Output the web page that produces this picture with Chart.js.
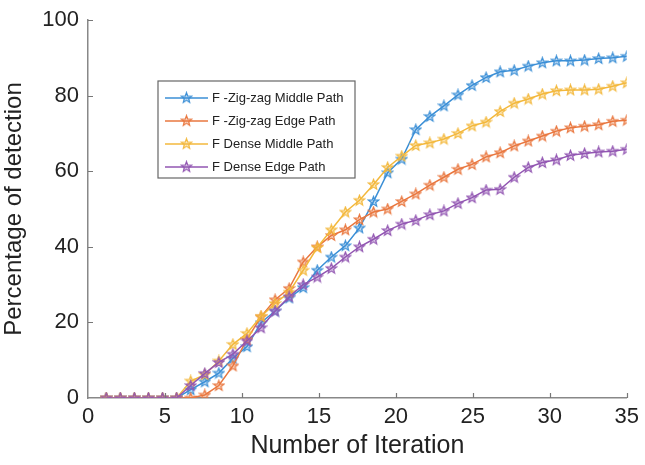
<!DOCTYPE html>
<html>
<head>
<meta charset="utf-8">
<script src="https://cdn.jsdelivr.net/npm/chart.js@4"></script>
<style>
  html, body { margin: 0; padding: 0; background: #fff; }
  #wrap { width: 645px; height: 465px; }
</style>
</head>
<body>
<div id="wrap"><canvas id="chart"></canvas></div>
<script>
  // iteration index of each sample
  const iterations = [1, 2, 3, 4, 5, 6, 7, 8, 9, 10, 11, 12, 13, 14, 15, 16, 17, 18, 19,
    20, 21, 22, 23, 24, 25, 26, 27, 28, 29, 30, 31, 32, 33, 34, 35, 36, 37, 38];

  const zigzagMiddle = [0, 0, 0, 0, 0, 0, 2.2, 4.3, 6.6, 10.5, 13.6, 19.9, 23, 26.5, 29.2, 33.8,
    37.3, 40.3, 45, 52, 59.6, 63.2, 71, 74.5, 77.3, 80.2, 82.7, 84.8, 86.3, 86.7, 87.8, 88.7,
    89.2, 89.2, 89.4, 89.8, 90, 90.4];
  const zigzagEdge = [0, 0, 0, 0, 0, 0, 0, 0.8, 3.3, 8.5, 15.5, 21.5, 26, 29, 36, 40,
    43, 44.5, 47.2, 49.2, 50, 52, 54, 56.3, 58.4, 60.5, 61.8, 63.8, 64.9, 66.7, 68, 69.3,
    70.6, 71.5, 71.9, 72.3, 73.2, 73.5];
  const denseMiddle = [0, 0, 0, 0, 0, 0, 4.5, 6.2, 9.8, 14.2, 17.1, 21.6, 25, 28, 33.8, 39.8,
    44.5, 49.2, 52.3, 56.5, 61, 64, 66.8, 67.5, 68.5, 70, 72, 73, 75.8, 78, 79.1, 80.4,
    81.3, 81.5, 81.5, 81.7, 82.5, 83.4];
  const denseEdge = [0, 0, 0, 0, 0, 0, 3.3, 6.5, 9.4, 11.6, 15.1, 18.6, 23, 26.8, 30, 32,
    34.3, 37.3, 40, 42, 44.3, 46, 47, 48.5, 49.5, 51.5, 53, 55, 55.2, 58.4, 61, 62.3,
    63, 64.2, 64.7, 65.1, 65.3, 65.8];

  const seriesNames = ['F -Zig-zag Middle Path', 'F -Zig-zag Edge Path', 'F Dense Middle Path', 'F Dense Edge Path'];
  const seriesColors = ['#3b8fd6', '#e9773f', '#f3b83c', '#9256b2'];
  const xTickLabels = [0, 5, 10, 15, 20, 25, 30, 35];
  const yTickLabels = [0, 20, 40, 60, 80, 100];

  // five-pointed star marker, like matlab's pentagram
  function makeStar(color) {
    const c = document.createElement('canvas');
    c.width = 13; c.height = 13;
    const ctx = c.getContext('2d');
    ctx.beginPath();
    for (let i = 0; i < 10; i++) {
      const r = i % 2 === 0 ? 5.4 : 2.3;
      const a = -Math.PI / 2 + i * Math.PI / 5;
      const px = 6.5 + r * Math.cos(a), py = 6.8 + r * Math.sin(a);
      if (i === 0) ctx.moveTo(px, py); else ctx.lineTo(px, py);
    }
    ctx.closePath();
    ctx.globalAlpha = 0.35;
    ctx.fillStyle = color;
    ctx.fill();
    ctx.globalAlpha = 1;
    ctx.lineWidth = 1.2;
    ctx.strokeStyle = color;
    ctx.stroke();
    return c;
  }
  const stars = seriesColors.map(makeStar);

  const allSeries = [zigzagMiddle, zigzagEdge, denseMiddle, denseEdge];
  const datasets = allSeries.map((vals, k) => ({
    label: seriesNames[k],
    data: vals.map((v, i) => ({ x: iterations[i], y: v })),
    borderColor: seriesColors[k],
    borderWidth: 1.5,
    pointStyle: stars[k],
    pointRadius: 6,
    xAxisID: 'x',
    yAxisID: 'y'
  }));
  // draw series in matlab order, first on bottom
  datasets.forEach((d, k) => d.order = 4 - k);

  // legend box inside the plot, matlab style
  const boxLegend = {
    id: 'boxLegend',
    afterDraw(chart) {
      const ctx = chart.ctx;
      const a = chart.chartArea;
      const left = a.left + 70, top = a.top + 61, w = 197, h = 97;
      ctx.save();
      ctx.fillStyle = '#fff';
      ctx.fillRect(left, top, w, h);
      ctx.strokeStyle = '#666';
      ctx.lineWidth = 1.2;
      ctx.strokeRect(left, top, w, h);
      ctx.font = '13px "Liberation Sans", Arial, sans-serif';
      ctx.textBaseline = 'middle';
      seriesNames.forEach((name, k) => {
        const y = top + 17 + k * 23;
        ctx.strokeStyle = seriesColors[k];
        ctx.lineWidth = 1.5;
        ctx.beginPath();
        ctx.moveTo(left + 7, y);
        ctx.lineTo(left + 50, y);
        ctx.stroke();
        ctx.drawImage(stars[k], left + 22, y - 6.8);
        ctx.fillStyle = '#222';
        ctx.fillText(name, left + 54, y);
      });
      ctx.restore();
    }
  };

  // short ticks pointing into the plot
  const innerTicks = {
    id: 'innerTicks',
    afterDraw(chart) {
      const ctx = chart.ctx;
      const a = chart.chartArea;
      const xs = chart.scales.x2, ys = chart.scales.y;
      ctx.save();
      ctx.strokeStyle = '#777';
      ctx.lineWidth = 1.2;
      ctx.beginPath();
      xTickLabels.slice(1).forEach(v => {
        const px = Math.round(xs.getPixelForValue(v)) + 0.5;
        ctx.moveTo(px, a.bottom);
        ctx.lineTo(px, a.bottom - 5);
      });
      yTickLabels.slice(1).forEach(v => {
        const py = Math.round(ys.getPixelForValue(v)) + 0.5;
        ctx.moveTo(a.left, py);
        ctx.lineTo(a.left + 5, py);
      });
      ctx.stroke();
      ctx.restore();
    }
  };

  new Chart(document.getElementById('chart'), {
    type: 'line',
    data: { datasets: datasets },
    options: {
      responsive: true,
      maintainAspectRatio: false,
      animation: false,
      layout: { padding: { top: 4, right: 16, left: 0, bottom: 0 } },
      plugins: {
        legend: { display: false },
        tooltip: { enabled: false }
      },
      scales: {
        x: {
          type: 'linear',
          display: false,
          min: -0.3,
          max: 38
        },
        x2: {
          type: 'linear',
          position: 'bottom',
          min: 0,
          max: 35,
          afterFit: s => { s.height = 67; },
          afterBuildTicks: s => { s.ticks = xTickLabels.map(v => ({ value: v })); },
          grid: { display: false, drawTicks: false },
          border: { display: true, color: '#888', width: 1.5 },
          ticks: {
            padding: 6,
            maxRotation: 0,
            color: '#222',
            font: { family: '"Liberation Sans", Arial, sans-serif', size: 22 }
          },
          title: {
            display: true,
            text: 'Number of Iteration',
            color: '#222',
            padding: { top: 0, bottom: 4 },
            font: { family: '"Liberation Sans", Arial, sans-serif', size: 25 }
          }
        },
        y: {
          type: 'linear',
          min: 0,
          max: 100,
          afterFit: s => { s.width = 88; },
          afterBuildTicks: s => { s.ticks = yTickLabels.map(v => ({ value: v })); },
          grid: { display: false, drawTicks: false },
          border: { display: true, color: '#888', width: 1.5 },
          ticks: {
            padding: 9,
            color: '#222',
            font: { family: '"Liberation Sans", Arial, sans-serif', size: 22, lineHeight: 1 }
          },
          title: {
            display: true,
            text: 'Percentage of detection',
            color: '#222',
            padding: { top: 0, bottom: 4 },
            font: { family: '"Liberation Sans", Arial, sans-serif', size: 24 }
          }
        }
      }
    },
    plugins: [boxLegend, innerTicks]
  });
</script>
</body>
</html>
